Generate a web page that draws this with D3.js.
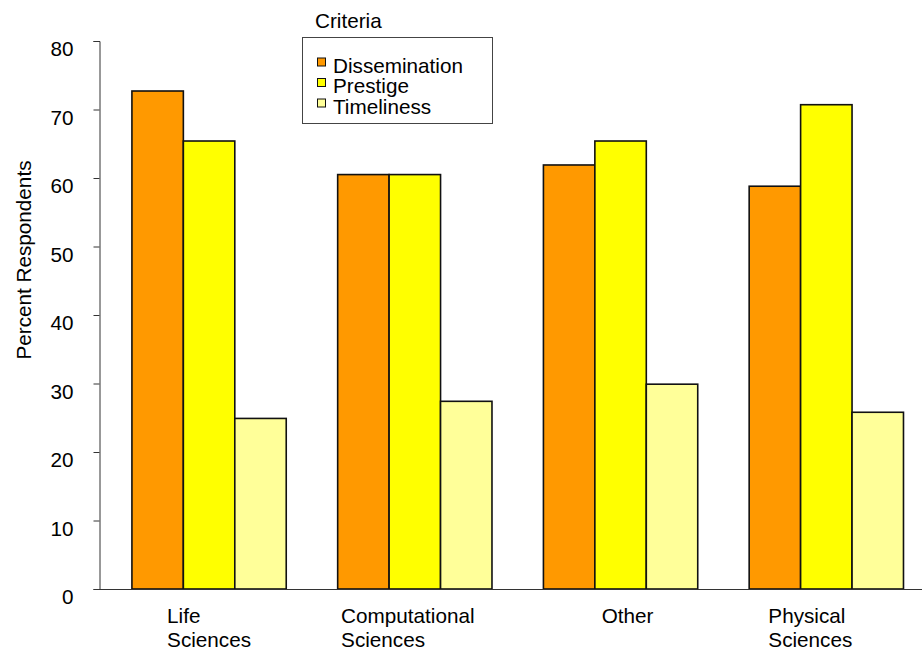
<!DOCTYPE html>
<html>
<head>
<meta charset="utf-8">
<script src="https://cdn.jsdelivr.net/npm/d3@7"></script>
<style>
  html, body { margin: 0; padding: 0; background: #fff; }
  svg { display: block; }
  text { font-family: "Liberation Sans", Arial, sans-serif; fill: #000; }
</style>
</head>
<body>
<svg id="chart" width="922" height="651"></svg>
<script>
// Survey results: share of respondents rating each criterion, by field
const categories = ["Life\nSciences", "Computational\nSciences", "Other", "Physical\nSciences"];
const seriesNames = ["Dissemination", "Prestige", "Timeliness"];
const dissemination = [72.7, 60.5, 61.9, 58.8];
const prestige = [65.4, 60.5, 65.4, 70.7];
const timeliness = [24.9, 27.4, 29.9, 25.8];
const yTicks = [0, 10, 20, 30, 40, 50, 60, 70, 80];
const legendTitle = "Criteria";
const yTitle = "Percent Respondents";

const seriesValues = [dissemination, prestige, timeliness];
const colors = ["#FF9900", "#FFFF00", "#FFFF99"];
const fontSize = 20.7;

const svg = d3.select("#chart");
const plot = { left: 99, right: 922, top: 41, bottom: 589 };

const x = d3.scaleBand()
  .domain(categories)
  .range([plot.left, plot.right])
  .paddingInner(0.25)
  .paddingOuter(0.125)
  .align(0.64);

const xs = d3.scaleBand()
  .domain(seriesNames)
  .range([0, x.bandwidth()]);

const y = d3.scaleLinear()
  .domain([0, 80])
  .range([plot.bottom, plot.top]);

// Bars
const groups = svg.append("g").selectAll("g")
  .data(categories)
  .join("g")
  .attr("transform", d => `translate(${x(d)},0)`);

groups.selectAll("rect")
  .data((c, i) => seriesNames.map((s, j) => ({ s, j, v: seriesValues[j][i] })))
  .join("rect")
  .attr("x", d => xs(d.s))
  .attr("width", xs.bandwidth())
  .attr("y", d => y(d.v))
  .attr("height", d => y(0) - y(d.v))
  .attr("fill", d => colors[d.j])
  .attr("stroke", "#111")
  .attr("stroke-width", 1.6);

// Category baseline
svg.append("line")
  .attr("x1", 95).attr("x2", plot.right)
  .attr("y1", y(0) + 0.5).attr("y2", y(0) + 0.5)
  .attr("stroke", "#333").attr("stroke-width", 1.2);

// Value axis
const yAxis = svg.append("g")
  .attr("transform", `translate(${plot.left + 0.5},0)`)
  .call(d3.axisLeft(y).tickValues(yTicks).tickSize(6).tickPadding(20).tickSizeOuter(6));
yAxis.select(".domain").attr("stroke", "#333");
yAxis.selectAll(".tick line").attr("stroke", "#333");
yAxis.selectAll(".tick text")
  .attr("dy", "0.72em")
  .style("font-size", fontSize + "px")
  .style("font-family", '"Liberation Sans", Arial, sans-serif')
  .attr("fill", "#000");

// Axis title
svg.append("text")
  .attr("transform", `translate(31,260) rotate(-90)`)
  .attr("text-anchor", "middle")
  .style("font-size", fontSize + "px")
  .text(yTitle);

// Category labels: multi-line, left-aligned lines within a block placed under each group
const labelShift = [0, -7, 7, -16];
categories.forEach((c, i) => {
  const t = svg.append("text")
    .style("font-size", fontSize + "px")
    .attr("y", plot.bottom + 33.5);
  const lines = c.split("\n");
  lines.forEach((ln, k) => {
    t.append("tspan").attr("dy", k === 0 ? 0 : 24).text(ln);
  });
  const w = d3.max(t.selectAll("tspan").nodes(), n => n.getComputedTextLength());
  const left = x(c) + x.bandwidth() / 2 - w / 2 + labelShift[i];
  t.selectAll("tspan").attr("x", left);
});

// Legend
const legend = svg.append("g");
legend.append("text")
  .attr("x", 315).attr("y", 28)
  .style("font-size", fontSize + "px")
  .text(legendTitle);
legend.append("rect")
  .attr("x", 302.5).attr("y", 37.5)
  .attr("width", 190).attr("height", 86)
  .attr("fill", "#fff")
  .attr("stroke", "#444").attr("stroke-width", 1);
seriesNames.forEach((s, j) => {
  const base = 72.5 + j * 20.5;
  legend.append("rect")
    .attr("x", 317.5).attr("y", base - 14.5)
    .attr("width", 8).attr("height", 8)
    .attr("fill", colors[j])
    .attr("stroke", "#111").attr("stroke-width", 1);
  legend.append("text")
    .attr("x", 333).attr("y", base)
    .style("font-size", fontSize + "px")
    .text(s);
});
</script>
</body>
</html>
